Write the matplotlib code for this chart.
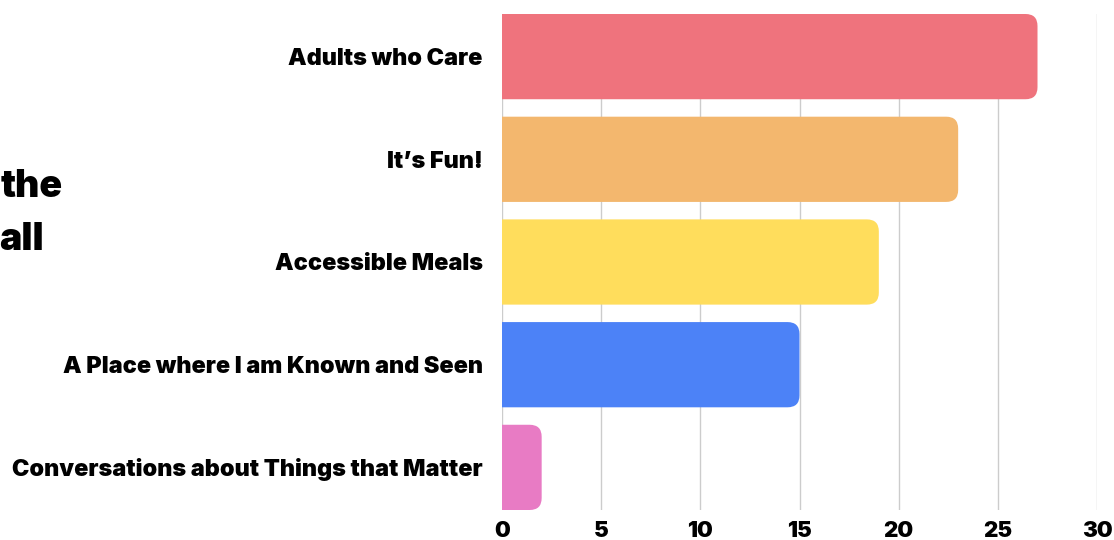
import matplotlib.pyplot as plt
from matplotlib.patches import FancyBboxPatch

# reasons, top to bottom
labels = ['Adults who Care', "It\u2019s Fun!", 'Accessible Meals',
          'A Place where I am Known and Seen', 'Conversations about Things that Matter']
values = [27, 23, 19, 15, 2]
colors = ['#EF737D', '#F3B76E', '#FFDD5C', '#4C82F7', '#E87BC4']
xticks = [0, 5, 10, 15, 20, 25, 30]

plt.rcParams['font.family'] = ['Inter', 'DejaVu Sans']

fig = plt.figure(figsize=(11.14, 5.4), dpi=100)
ax = fig.add_axes([502 / 1114, 30 / 540, 595 / 1114, 496 / 540])

pos = list(range(len(labels)))
bars = ax.barh(pos, values, height=0.83, color=colors)
ax.set_ylim(len(labels) - 1 + 0.415, -0.415)
ax.set_xlim(0, 30)

# swap plain bars for ones with rounded right corners
px_x = 595 / 30
px_y = 496 / 4.83
r = 12 / px_x
for b in bars:
    x0, y0 = b.get_x(), b.get_y()
    w, h = b.get_width(), b.get_height()
    b.set_visible(False)
    p = FancyBboxPatch((x0 - 2 * r, y0), w + 2 * r, h,
                       boxstyle=f'round,pad=0,rounding_size={r}',
                       mutation_aspect=px_x / px_y,
                       facecolor=b.get_facecolor(), edgecolor='none', zorder=2)
    ax.add_patch(p)

ax.set_yticks(pos)
ax.set_yticklabels(labels, fontsize=16.9, fontweight='black')
ax.set_xticks(xticks)
ax.set_xticklabels([str(t) for t in xticks], fontsize=16, fontweight='black')
ax.tick_params(axis='both', length=0)
ax.tick_params(axis='y', pad=14)
ax.tick_params(axis='x', pad=8)
ax.grid(axis='x', color='#cccccc', linewidth=1)
ax.set_axisbelow(True)
for s in ax.spines.values():
    s.set_visible(False)

# title, mostly cut off at the left edge
fig.text(63 / 1114, 1 - 197 / 540, 'the', ha='right', va='baseline',
         fontsize=27, fontweight='black')
fig.text(44 / 1114, 1 - 250 / 540, 'all', ha='right', va='baseline',
         fontsize=27, fontweight='black')

fig.savefig('out.png', dpi=100)
